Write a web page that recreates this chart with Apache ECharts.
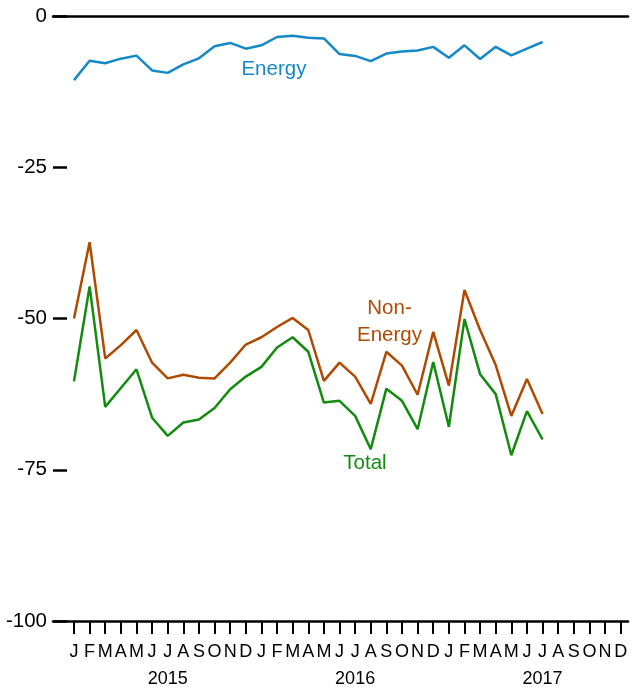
<!DOCTYPE html>
<html>
<head>
<meta charset="utf-8">
<script src="https://cdn.jsdelivr.net/npm/echarts@6/dist/echarts.min.js"></script>
<style>
  html, body { margin: 0; padding: 0; background: #fff; }
  #main { width: 637px; height: 688px; }
</style>
</head>
<body>
<div id="main"></div>
<script>
// months Jan 2015 .. Dec 2017 (axis), data Jan 2015 .. Jul 2017
var monthLetters = ['J', 'F', 'M', 'A', 'M', 'J', 'J', 'A', 'S', 'O', 'N', 'D'];
var years = ['2015', '2016', '2017'];

var energy = [-10.6, -7.4, -7.8, -7.05, -6.55, -9.0, -9.4, -8.0, -7.0, -5.0, -4.45, -5.4,
  -4.85, -3.47, -3.25, -3.6, -3.7, -6.3, -6.6, -7.45, -6.2, -5.85, -5.7, -5.1,
  -6.9, -4.85, -7.1, -5.1, -6.5, -5.4, -4.3];
var nonEnergy = [-50.0, -37.4, -56.6, -54.4, -51.9, -57.3, -59.9, -59.3, -59.8, -59.9, -57.3, -54.3,
  -53.1, -51.4, -49.9, -51.9, -60.3, -57.3, -59.6, -64.1, -55.5, -57.8, -62.6, -52.2,
  -61.1, -45.3, -51.9, -57.7, -66.1, -60.0, -65.8];
var total = [-60.4, -44.7, -64.6, -61.5, -58.4, -66.4, -69.4, -67.2, -66.7, -64.8, -61.7, -59.6,
  -58.0, -54.8, -53.1, -55.5, -63.9, -63.6, -66.1, -71.6, -61.6, -63.6, -68.3, -57.2,
  -67.9, -50.1, -59.2, -62.5, -72.6, -65.3, -70.0];

var font = "'Liberation Sans', Arial, sans-serif";
var blue = '#1488c8', brown = '#b04a02', green = '#138a10';
var monthIdx = [];
for (var i = 0; i < 36; i++) monthIdx.push(i);

function pairs(arr) {
  return arr.map(function (v, i) { return [i, v]; });
}

// in-chart series name, placed in data coords
function note(text, x, y, color) {
  return {
    symbol: 'rect',
    symbolSize: 1,
    itemStyle: { color: 'rgba(0,0,0,0)' },
    data: [{ coord: [x, y] }],
    label: {
      show: true,
      position: 'inside',
      formatter: text,
      color: color,
      fontFamily: font,
      fontSize: 20.5,
      lineHeight: 27
    }
  };
}

var chart = echarts.init(document.getElementById('main'));

var xMin = -1.344, xMax = 35.47;

var option = {
  animation: false,
  grid: { left: 53, right: 9, top: 16, bottom: 67 },
  xAxis: [
    {
      type: 'value',
      position: 'bottom',
      min: xMin,
      max: xMax,
      splitLine: { show: false },
      axisLine: { show: true, onZero: false, lineStyle: { color: '#000', width: 2.5 } },
      axisTick: { show: true, customValues: monthIdx, length: 13, lineStyle: { color: '#000', width: 2 } },
      axisLabel: {
        customValues: monthIdx,
        formatter: function (v) { return monthLetters[Math.round(v) % 12]; },
        color: '#000', fontFamily: font, fontSize: 18, margin: 22
      }
    },
    {
      type: 'value',
      position: 'top',
      min: xMin,
      max: xMax,
      splitLine: { show: false },
      axisLine: { show: true, onZero: false, lineStyle: { color: '#000', width: 2.5 } },
      axisTick: { show: false },
      axisLabel: { show: false }
    },
    {
      type: 'value',
      position: 'bottom',
      min: xMin,
      max: xMax,
      splitLine: { show: false },
      axisLine: { show: false, onZero: false },
      axisTick: { show: false },
      axisLabel: {
        customValues: [6, 18, 30],
        formatter: function (v) { return years[Math.round((v - 6) / 12)]; },
        color: '#000', fontFamily: font, fontSize: 18, margin: 49
      }
    }
  ],
  yAxis: {
    type: 'value',
    position: 'left',
    min: -100,
    max: 0,
    interval: 25,
    splitLine: { show: false },
    axisLine: { show: false, onZero: false },
    axisTick: { show: true, inside: true, length: 14, lineStyle: { color: '#000', width: 2.5 } },
    axisLabel: { color: '#000', fontFamily: font, fontSize: 20.5, margin: 6 }
  },
  series: [
    {
      name: 'Energy',
      type: 'line',
      data: pairs(energy),
      showSymbol: false,
      lineStyle: { color: blue, width: 2.5 },
      markPoint: note('Energy', 12.8, -8.76, blue)
    },
    {
      name: 'Non-Energy',
      type: 'line',
      data: pairs(nonEnergy),
      showSymbol: false,
      lineStyle: { color: brown, width: 2.5 },
      markPoint: note('Non-\nEnergy', 20.2, -50.6, brown)
    },
    {
      name: 'Total',
      type: 'line',
      data: pairs(total),
      showSymbol: false,
      lineStyle: { color: green, width: 2.5 },
      markPoint: note('Total', 18.63, -73.9, green)
    }
  ]
};

chart.setOption(option);
</script>
</body>
</html>
